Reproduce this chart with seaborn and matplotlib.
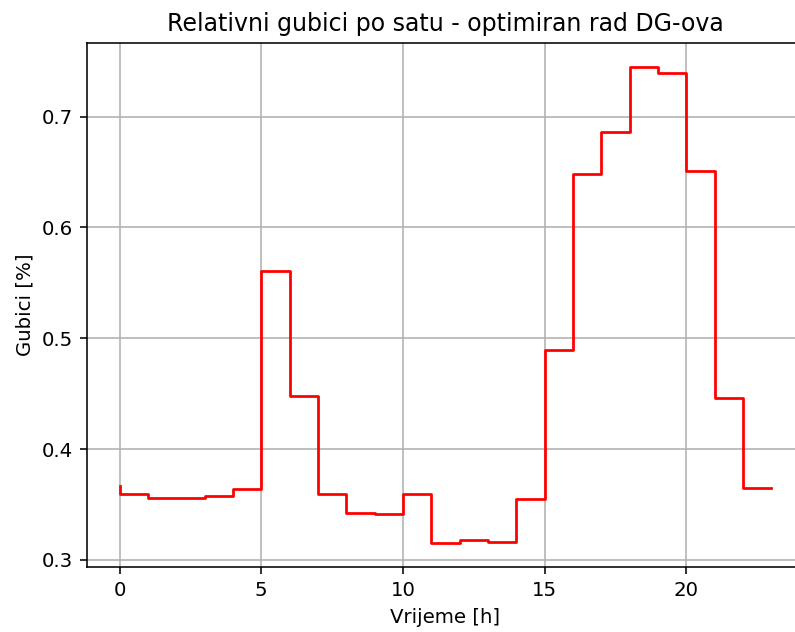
import matplotlib
matplotlib.use("Agg")
import matplotlib.pyplot as plt
import seaborn as sns
import pandas as pd

# hourly relative losses (steps-pre: value k covers hour k-1..k)
sati = list(range(24))
gubici = [0.367, 0.359, 0.356, 0.356, 0.358, 0.364, 0.561, 0.448,
          0.359, 0.342, 0.341, 0.359, 0.315, 0.318, 0.316, 0.355,
          0.489, 0.648, 0.686, 0.745, 0.739, 0.651, 0.446, 0.365]

df = pd.DataFrame({"Vrijeme": sati, "Gubici": gubici})

dpi = 142
fig = plt.figure(figsize=(795 / dpi, 632 / dpi), dpi=dpi)
# original image is cropped on the right, so the axes run past the edge
ax = fig.add_axes([87 / 795, (632 - 567) / 632, 717 / 795, 524 / 632])

sns.lineplot(data=df, x="Vrijeme", y="Gubici", color="red", linewidth=1.4,
             drawstyle="steps-pre", ax=ax)

ax.grid(True)
ax.set_xlabel("Vrijeme [h]")
ax.set_ylabel("Gubici [%]")
ax.set_title("Relativni gubici po satu - optimiran rad DG-ova", fontsize=12)

fig.savefig("out.png", dpi=dpi)
